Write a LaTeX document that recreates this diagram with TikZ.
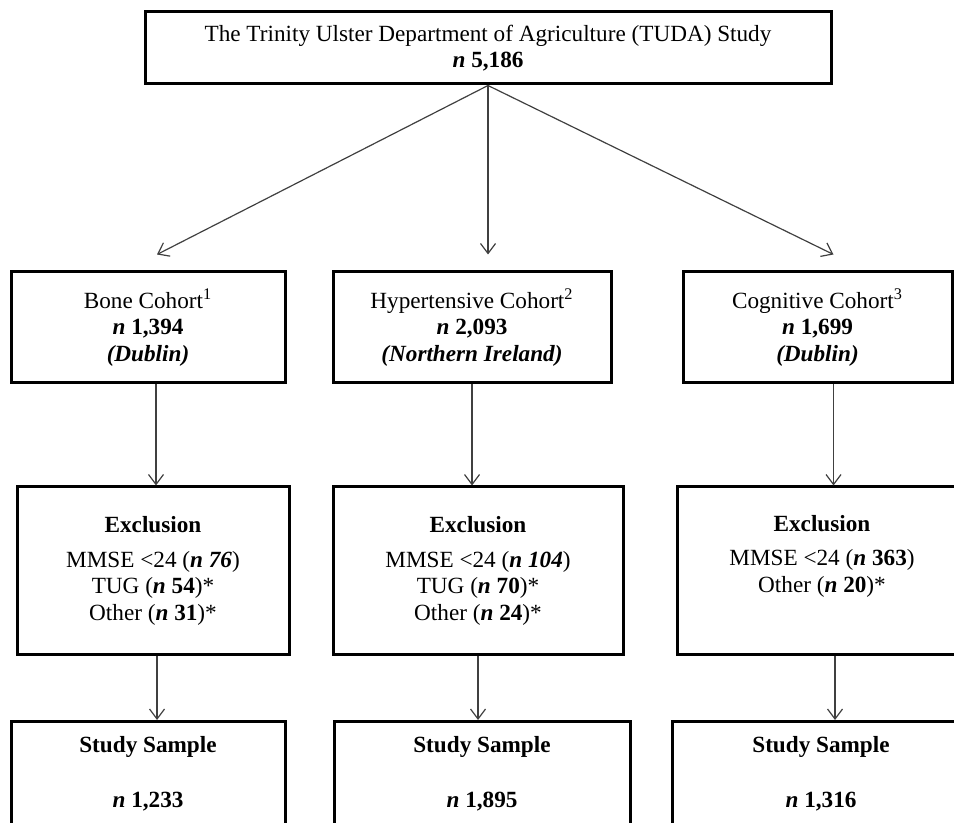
\documentclass[tikz,border=0pt]{standalone}
\usepackage{fontspec}
\setmainfont{Liberation Serif}
\usetikzlibrary{arrows.meta}

\begin{document}
\begin{tikzpicture}[x=0.5pt, y=-0.5pt,
		box/.style={draw=black, line width=1.5pt, align=center, inner sep=0pt,
			font=\fontsize{11.6}{13.3}\selectfont},
		link/.style={draw=black!75, line width=0.6pt,
			-{Straight Barb[length=5pt, width=7.5pt]}}]
			% Frame (pixel units, y downwards)
			\useasboundingbox (0,0) rectangle (954,823);
			\clip (0,0) rectangle (954,823);
			
			% Whole study
			\node[box, minimum width=343pt, minimum height=36pt] (tuda) at (488,48)
				{The Trinity Ulster Department of Agriculture (TUDA) Study\\
				 \textbf{\textit{n} 5,186}};
			
			% Cohorts
			\node[box, minimum width=137pt, minimum height=55.5pt] (bone) at (148,327.5)
				{Bone Cohort\textsuperscript{1}\\ \textbf{\textit{n} 1,394}\\ \textbf{\textit{(Dublin)}}};
			\node[box, minimum width=139pt, minimum height=55.5pt] (hyp) at (472,327.5)
				{Hypertensive Cohort\textsuperscript{2}\\ \textbf{\textit{n} 2,093}\\ \textbf{\textit{(Northern Ireland)}}};
			\node[box, minimum width=134.5pt, minimum height=55.5pt] (cog) at (817.5,327.5)
				{Cognitive Cohort\textsuperscript{3}\\ \textbf{\textit{n} 1,699}\\ \textbf{\textit{(Dublin)}}};
			
			% Exclusions
			\node[box, minimum width=136pt, minimum height=84pt] (exbone) at (153,571)
				{\textbf{Exclusion}\\[4pt] MMSE <24 (\textbf{\textit{n 76}})\\
				 TUG (\textbf{\textit{n} 54})*\\ Other (\textbf{\textit{n} 31})*};
			\node[box, minimum width=145pt, minimum height=84pt] (exhyp) at (478,571)
				{\textbf{Exclusion}\\[4pt] MMSE <24 (\textbf{\textit{n 104}})\\
				 TUG (\textbf{\textit{n} 70})*\\ Other (\textbf{\textit{n} 24})*};
			\node[box, minimum width=145pt, minimum height=84pt] (excog) at (822,571)
				{\textbf{Exclusion}\\[4pt] MMSE <24 (\textbf{\textit{n} 363})\\
				 Other (\textbf{\textit{n} 20})*\\ \strut};
			
			% Study samples
			\node[box, anchor=north, inner ysep=7.5pt, minimum width=137pt] (sbone) at (148,720)
				{\textbf{Study Sample}\\[14pt] \textbf{\textit{n} 1,233}\\ \strut};
			\node[box, anchor=north, inner ysep=7.5pt, minimum width=148pt] (shyp) at (482,720)
				{\textbf{Study Sample}\\[14pt] \textbf{\textit{n} 1,895}\\ \strut};
			\node[box, anchor=north, inner ysep=7.5pt, minimum width=149pt] (scog) at (821,720)
				{\textbf{Study Sample}\\[14pt] \textbf{\textit{n} 1,316}\\ \strut};
			
			% Study to cohorts
			\draw[link] (tuda.south) -- ([shift={(9,-16)}]bone.north);
			\draw[link] (tuda.south) -- ([shift={(16,-16)}]hyp.north);
			\draw[link] (tuda.south) -- ([shift={(16,-16)}]cog.north);
			
			% Cohorts to exclusions
			\draw[link] ([shift={(8,0)}]bone.south) -- ([shift={(8,0)}]bone.south |- exbone.north);
			\draw[link] (hyp.south) -- (hyp.south |- exhyp.north);
			\draw[link] ([shift={(16,0)}]cog.south) -- ([shift={(16,0)}]cog.south |- excog.north);
			
			% Exclusions to samples
			\draw[link] ([shift={(4,0)}]exbone.south) -- ([shift={(4,0)}]exbone.south |- sbone.north);
			\draw[link] (exhyp.south) -- (exhyp.south |- shyp.north);
			\draw[link] ([shift={(13,0)}]excog.south) -- ([shift={(13,0)}]excog.south |- scog.north);
			
		\end{tikzpicture}
\end{document}
